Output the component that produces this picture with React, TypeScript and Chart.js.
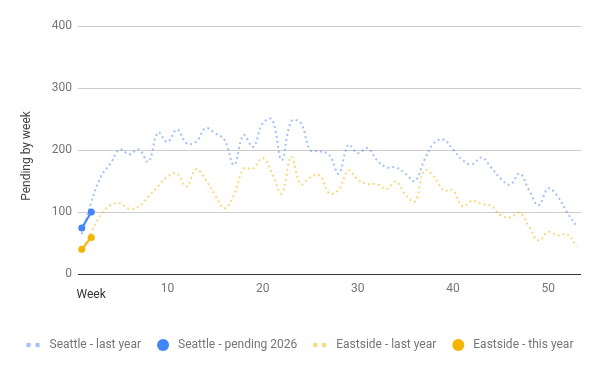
import React, { useEffect, useRef } from "react";
import { Chart, registerables } from "chart.js";

Chart.register(...registerables);

const weeks = [
  1, 2, 3, 4, 5, 6, 7, 8, 9, 10, 11, 12, 13, 14, 15, 16, 17, 18, 19, 20, 21, 22, 23, 24, 25, 26, 27,
  28, 29, 30, 31, 32, 33, 34, 35, 36, 37, 38, 39, 40, 41, 42, 43, 44, 45, 46, 47, 48, 49, 50, 51, 52, 53,
];

const seattleLastYear = [
  64, 116, 157, 178, 201, 193, 201, 181, 228, 213, 233, 211, 213, 235, 227, 216, 176, 224, 205, 243,
  249, 184, 246, 244, 200, 198, 192, 162, 208, 195, 203, 184, 172, 172, 162, 150, 184, 211, 217, 201,
  184, 177, 188, 172, 154, 144, 162, 135, 111, 138, 125, 99, 77,
];

const seattlePending2026 = [74, 100];

const eastsideLastYear = [
  34, 68, 95, 111, 114, 105, 109, 125, 141, 157, 162, 141, 169, 152, 127, 106, 128, 170, 170, 187,
  162, 130, 189, 145, 156, 159, 130, 136, 167, 152, 145, 145, 137, 149, 128, 117, 167, 157, 135, 135,
  109, 118, 113, 110, 95, 91, 99, 76, 54, 68, 62, 64, 44,
];

const eastsideThisYear = [40, 59];

const seriesNames = [
  "Seattle - last year",
  "Seattle - pending 2026",
  "Eastside - last year",
  "Eastside - this year",
];

const xTicks = [10, 20, 30, 40, 50];
const yTicks = [0, 100, 200, 300, 400];

const BLUE = "#4285F4";
const YELLOW = "#F4B400";
const BLUE_LIGHT = "rgba(66,133,244,0.5)";
const YELLOW_LIGHT = "rgba(244,180,0,0.5)";
const FONT = "Roboto";

const toPoints = (vals: number[]) => vals.map((v, i) => ({ x: weeks[i], y: v }));

const extrasPlugin = {
  id: "extras",
  afterDraw(chart: any) {
    const ctx = chart.ctx as CanvasRenderingContext2D;
    const area = chart.chartArea;
    ctx.save();
    // y axis title
    ctx.font = `12px ${FONT}`;
    ctx.fillStyle = "#444";
    ctx.textAlign = "center";
    ctx.textBaseline = "middle";
    ctx.translate(27, (area.top + area.bottom) / 2 + 6);
    ctx.rotate(-Math.PI / 2);
    ctx.fillText("Pending by week", 0, 0);
    ctx.restore();

    ctx.save();
    ctx.font = `12px ${FONT}`;
    ctx.fillStyle = "#333";
    ctx.textAlign = "left";
    ctx.textBaseline = "middle";
    ctx.fillText("Week", area.left - 1.5, area.bottom + 20.5);
    ctx.restore();

    // legend
    ctx.save();
    ctx.font = `12px ${FONT}`;
    ctx.textBaseline = "middle";
    ctx.textAlign = "left";
    const items = chart.data.datasets.map((ds: any) => ({
      label: ds.label as string,
      dotted: !!ds.borderDash && ds.borderDash.length > 0,
      color: ds.legendColor as string,
    }));
    const markerW = (d: boolean) => (d ? 13 : 12);
    const markerGap = (d: boolean) => (d ? 10 : 9);
    const itemGap = 16;
    let total = 0;
    items.forEach((it: any, i: number) => {
      total += markerW(it.dotted) + markerGap(it.dotted) + ctx.measureText(it.label).width;
      if (i < items.length - 1) total += itemGap;
    });
    let x = chart.width / 2 - total / 2;
    const y = 345;
    items.forEach((it: any) => {
      ctx.fillStyle = it.color;
      if (it.dotted) {
        ctx.fillRect(x, y - 2, 4, 4);
        ctx.fillRect(x + 9, y - 2, 4, 4);
      } else {
        ctx.beginPath();
        ctx.arc(x + 6, y, 6, 0, Math.PI * 2);
        ctx.fill();
      }
      x += markerW(it.dotted) + markerGap(it.dotted);
      ctx.fillStyle = "#757575";
      ctx.fillText(it.label, x, y);
      x += ctx.measureText(it.label).width + itemGap;
    });
    ctx.restore();
  },
};

export default function App() {
  const canvasRef = useRef<HTMLCanvasElement | null>(null);

  useEffect(() => {
    if (!canvasRef.current) return;
    const chart = new Chart(canvasRef.current, {
      type: "line",
      data: {
        datasets: [
          {
            label: seriesNames[0],
            data: toPoints(seattleLastYear),
            borderColor: BLUE_LIGHT,
            legendColor: BLUE_LIGHT,
            borderWidth: 2,
            borderDash: [2, 3],
            pointRadius: 0,
            tension: 0.4,
            fill: false,
            order: 2,
          } as any,
          {
            label: seriesNames[1],
            data: toPoints(seattlePending2026),
            borderColor: BLUE,
            backgroundColor: BLUE,
            legendColor: BLUE,
            borderWidth: 2,
            pointRadius: 3.5,
            pointBorderWidth: 0,
            pointBackgroundColor: BLUE,
            tension: 0,
            fill: false,
            order: 1,
          } as any,
          {
            label: seriesNames[2],
            data: toPoints(eastsideLastYear),
            borderColor: YELLOW_LIGHT,
            legendColor: YELLOW_LIGHT,
            borderWidth: 2,
            borderDash: [2, 3],
            pointRadius: 0,
            tension: 0.4,
            fill: false,
            order: 2,
          } as any,
          {
            label: seriesNames[3],
            data: toPoints(eastsideThisYear),
            borderColor: YELLOW,
            backgroundColor: YELLOW,
            legendColor: YELLOW,
            borderWidth: 2,
            pointRadius: 3.5,
            pointBorderWidth: 0,
            pointBackgroundColor: YELLOW,
            tension: 0,
            fill: false,
            order: 1,
          } as any,
        ],
      },
      options: {
        animation: false,
        responsive: false,
        maintainAspectRatio: false,
        layout: { padding: { left: 0, right: 19, top: 26, bottom: 67 } },
        plugins: {
          legend: { display: false },
          tooltip: { enabled: false },
        },
        scales: {
          x: {
            type: "linear",
            min: 0.6,
            max: 53.45,
            grid: { display: false, drawTicks: false },
            border: { display: false },
            afterBuildTicks: (scale: any) => {
              scale.ticks = xTicks.map((v) => ({ value: v }));
            },
            afterFit: (scale: any) => {
              scale.height = 30;
            },
            ticks: {
              padding: 8,
              autoSkip: false,
              maxRotation: 0,
              color: "#757575",
              font: { family: FONT, size: 12 },
              callback: (v: any) => String(v),
            },
          },
          y: {
            type: "linear",
            min: 0,
            max: 400,
            afterBuildTicks: (scale: any) => {
              scale.ticks = yTicks.map((v) => ({ value: v }));
            },
            afterFit: (scale: any) => {
              scale.width = 78;
            },
            grid: {
              drawTicks: false,
              color: (c: any) => (c.tick && c.tick.value === 0 ? "#333333" : "#cccccc"),
              lineWidth: 1,
            },
            border: { display: false },
            ticks: {
              padding: 6,
              color: "#757575",
              font: { family: FONT, size: 12 },
              callback: (v: any) => String(v),
            },
          },
        },
      } as any,
      plugins: [extrasPlugin],
    });
    return () => chart.destroy();
  }, []);

  return (
    <div style={{ position: "absolute", left: 0, top: 0, width: 600, height: 371, background: "#fff" }}>
      <canvas ref={canvasRef} width={600} height={371} style={{ width: 600, height: 371, display: "block" }} />
    </div>
  );
}
